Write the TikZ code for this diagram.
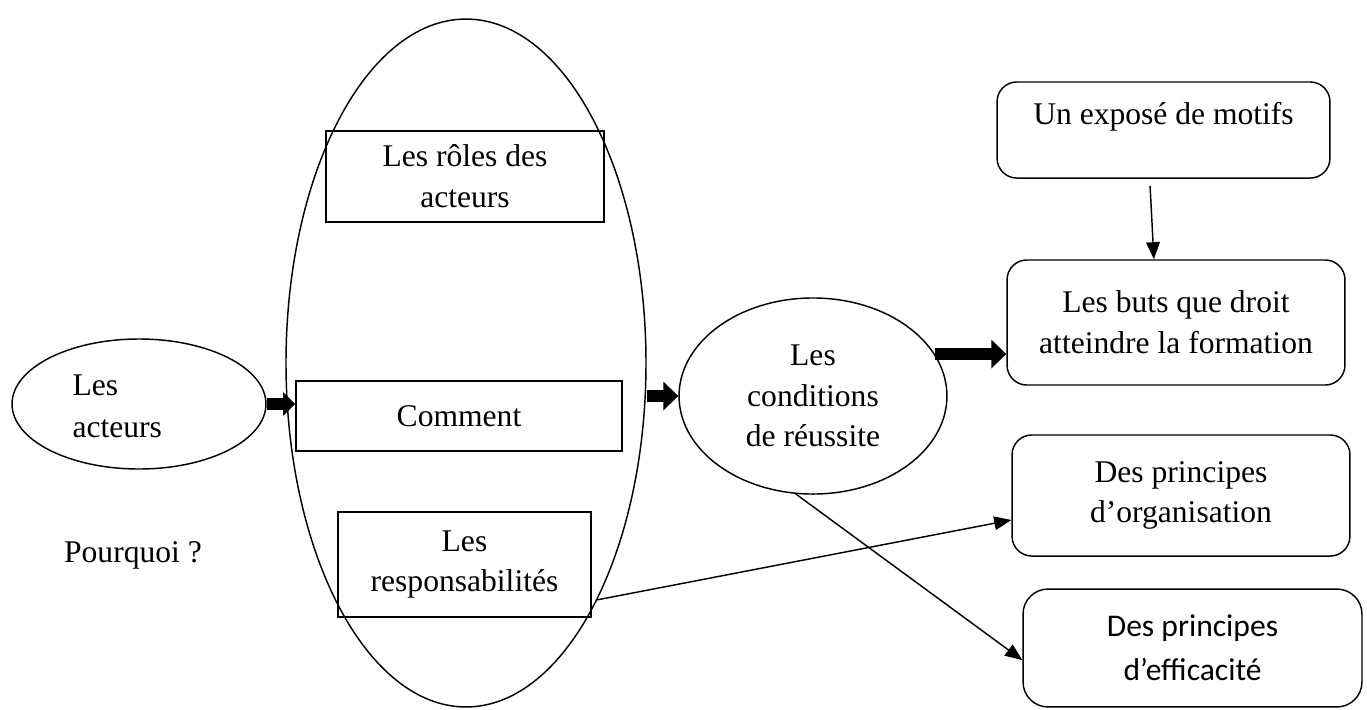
\documentclass[tikz,border=0pt]{standalone}
\usepackage{fontspec}
\setmainfont{Liberation Serif}
\newfontfamily\calibri{Carlito}
\usetikzlibrary{arrows.meta,positioning,shapes.geometric}

\begin{document}
\begin{tikzpicture}[x=0.38pt,y=-0.38pt,>=Latex,
  every node/.style={font=\fontsize{12}{15.5}\selectfont,align=center},
  oval/.style={draw,ellipse,line width=0.55pt,inner sep=0pt},
  box/.style={draw,rectangle,line width=0.55pt,inner sep=0pt},
  rbox/.style={box,rounded corners=7.5pt},
  link/.style={line width=0.55pt,-{Triangle[length=6.5pt,width=5.2pt]}},
  fatlink/.style={line width=4.6pt,-{Triangle[length=5.7pt,width=10.6pt]}}]
  \useasboundingbox (0,0) rectangle (1367,709);

  \node[oval,minimum width=96.5pt,minimum height=49.4pt] (acteurs) at (139,404) {};
  \node[anchor=west,align=left,inner sep=0pt,font=\fontsize{12}{16}\selectfont] (acteurstxt) at (72,406) {Les\\acteurs};
  \node (pourquoi) at (133,555) {Pourquoi ?};

  \node[oval,minimum width=136.8pt,minimum height=261.4pt] (groupe) at (466,363) {};
  \node[box,minimum width=105.6pt,minimum height=34.6pt] (roles) at (465,176.5) {Les rôles des\\acteurs};
  \node[box,minimum width=123.9pt,minimum height=26.6pt] (comment) at (459,416) {Comment};
  \node[box,minimum width=96.1pt,minimum height=39.9pt] (resp) at (464.5,564.5) {Les\\responsabilités};

  \node[oval,minimum width=101.8pt,minimum height=74.5pt] (conditions) at (813,396) {Les\\conditions\\de réussite};

  \node[rbox,minimum width=126.5pt,minimum height=36.5pt] (motifs) at (1163.5,130) {};
  \node (motifstxt) at (1163.5,117) {Un exposé de motifs};
  \node[rbox,minimum width=128.4pt,minimum height=47.5pt] (buts) at (1176,322.5) {Les buts que droit\\atteindre la formation};
  \node[rbox,minimum width=128.4pt,minimum height=46pt] (orga) at (1181,495.5) {Des principes\\d’organisation};
  \node[rbox,rounded corners=9.5pt,minimum width=128.8pt,minimum height=44.8pt,
    font=\calibri\fontsize{12}{16.7}\selectfont] (effic) at (1192.5,648) {Des principes\\d’efficacité};

  \draw[fatlink,line width=4.2pt,-{Triangle[length=4.6pt,width=8.7pt]}] (acteurs.east) -- (acteurs.east -| comment.west);
  \draw[fatlink] (conditions.west -| groupe.east) -- (conditions.west);
  \draw[fatlink] (conditions.19) -- (conditions.19 -| buts.west);
  \draw[link] ([xshift=-5.1pt,yshift=-2.7pt]motifs.south) -- ([xshift=-8.4pt]buts.north);
  \draw[link] (groupe.-61) -- ([yshift=-9.3pt]orga.west);
  \draw[link] (conditions.-100) -- ([yshift=-4.6pt]effic.west);
\end{tikzpicture}
\end{document}
